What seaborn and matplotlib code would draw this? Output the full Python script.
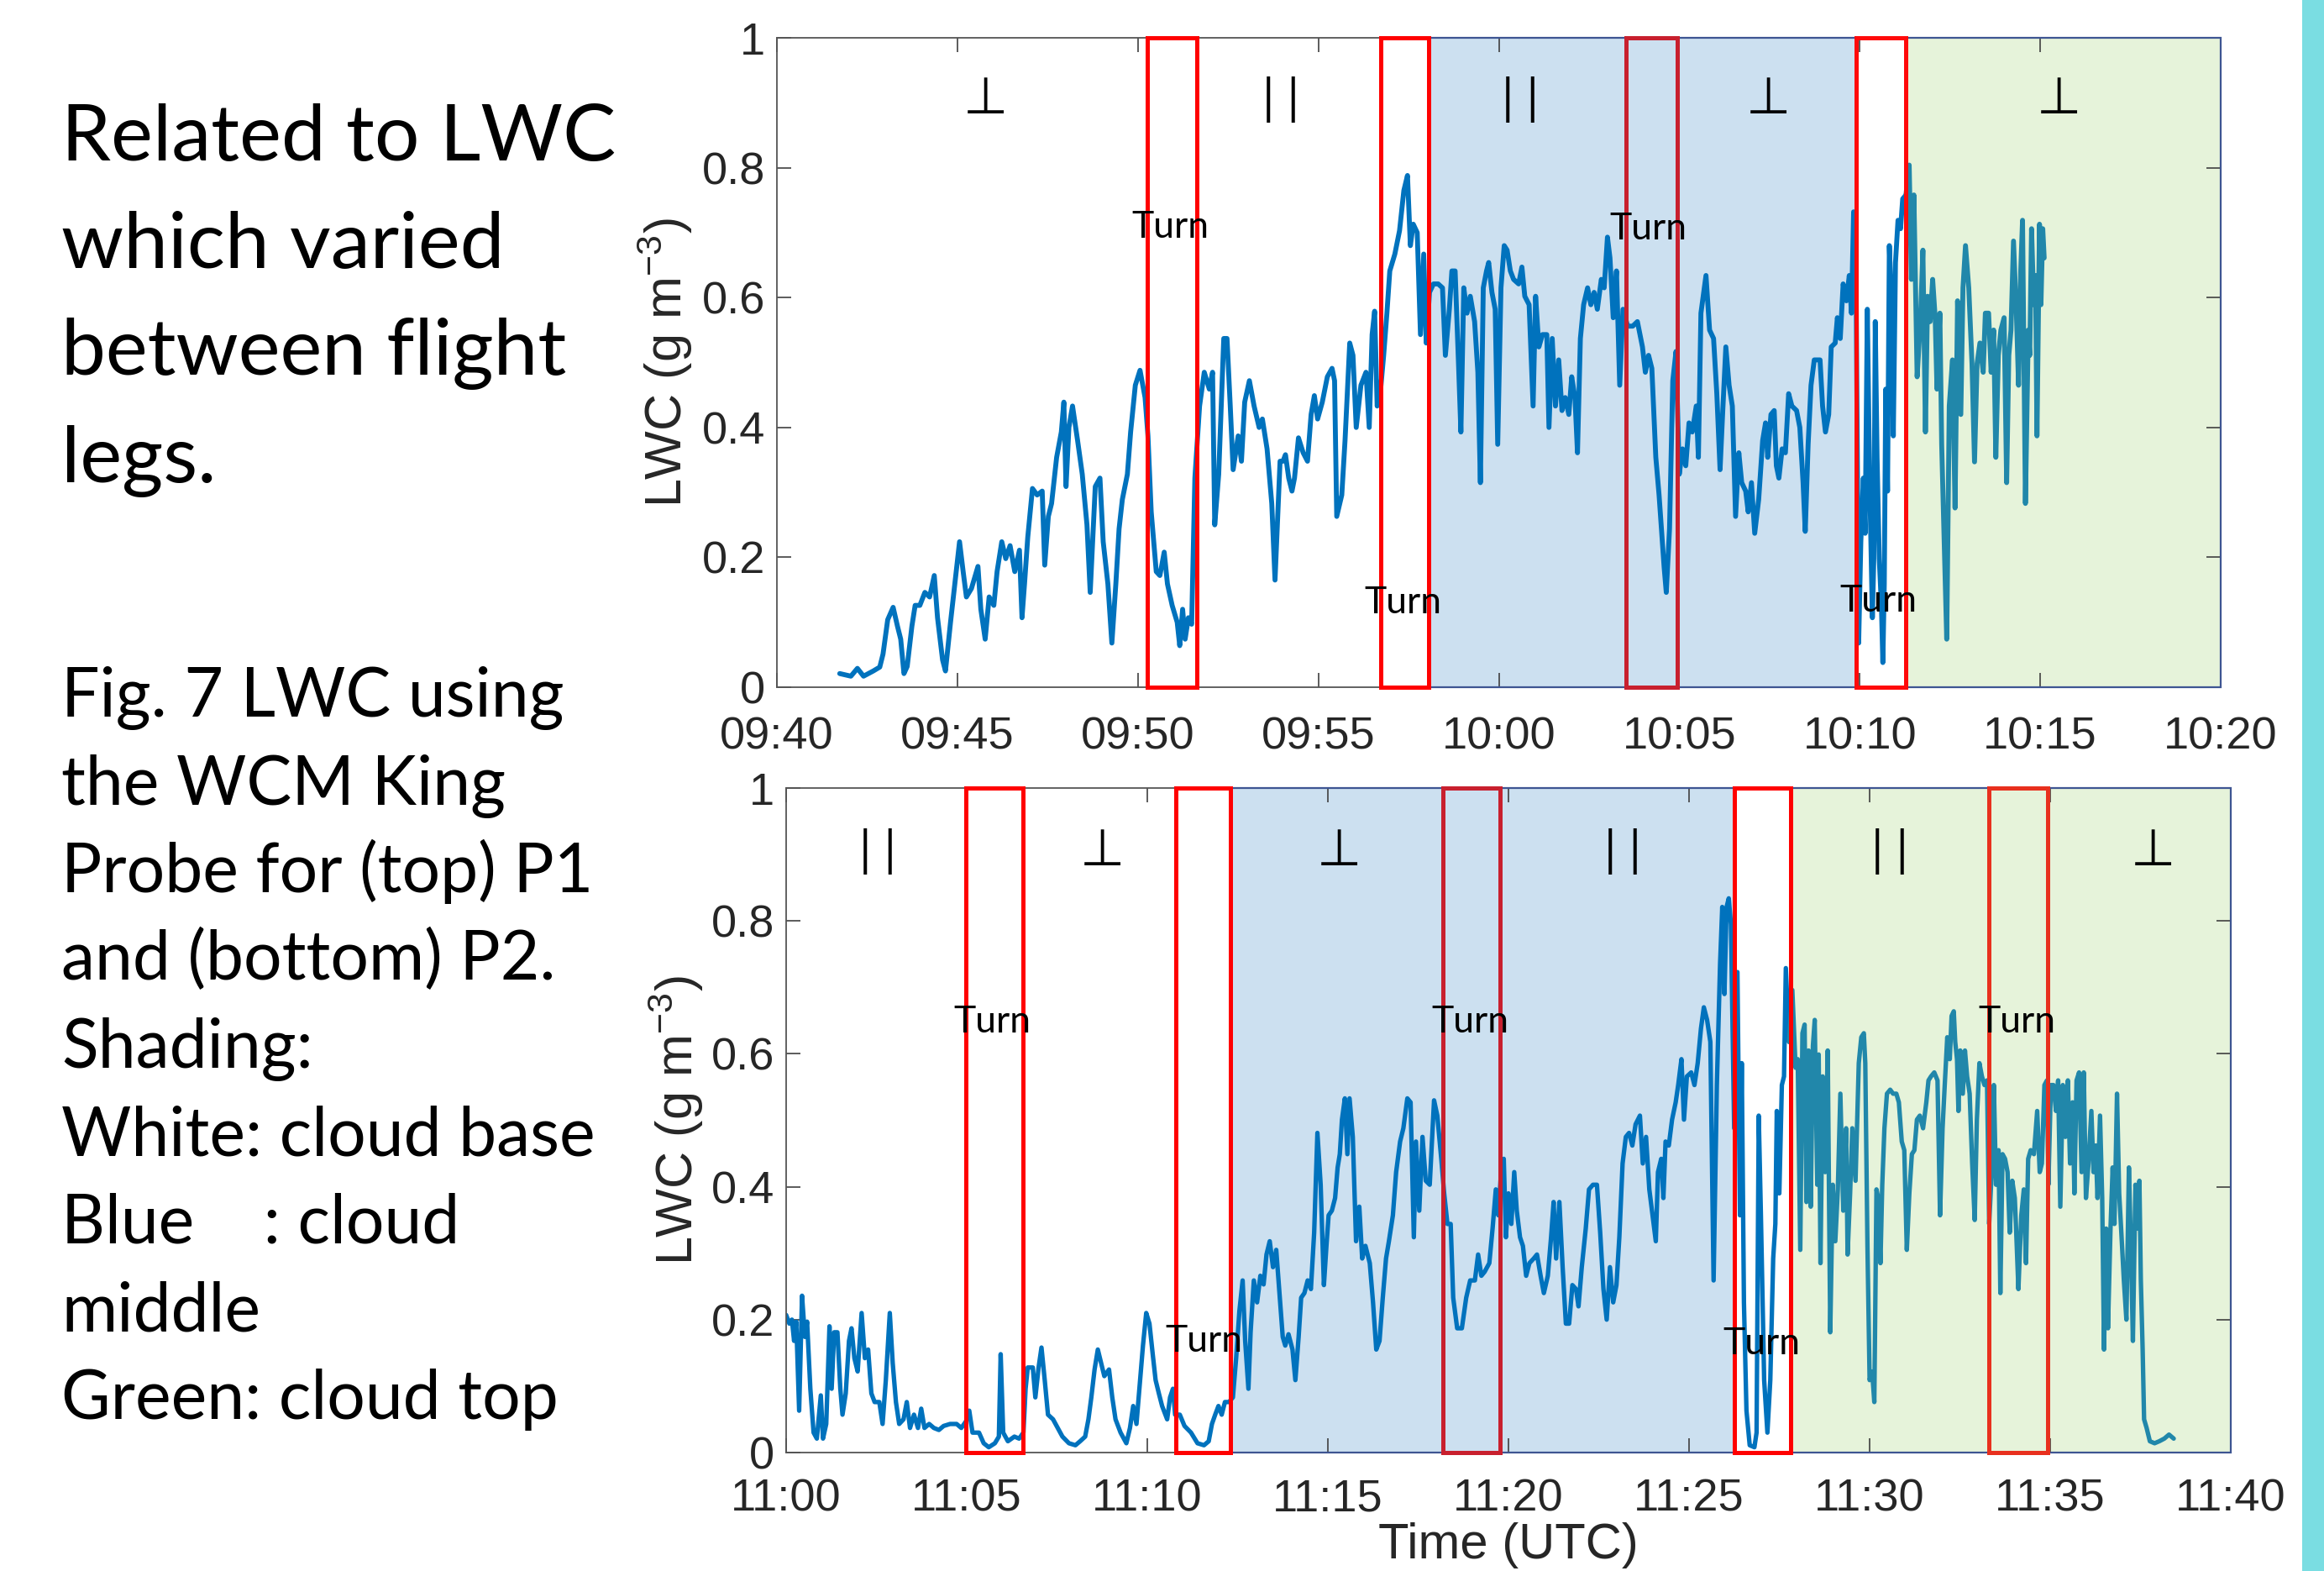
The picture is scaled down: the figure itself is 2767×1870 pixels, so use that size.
import matplotlib
matplotlib.use("Agg")
import matplotlib.pyplot as plt
from matplotlib.patches import Rectangle
import numpy as np
import pandas as pd
import seaborn as sns

# ---------------------------------------------------------------- data
TOP_TICK_LABELS = ["09:40", "09:45", "09:50", "09:55", "10:00", "10:05", "10:10", "10:15", "10:20"]
BOT_TICK_LABELS = ["11:00", "11:05", "11:10", "11:15", "11:20", "11:25", "11:30", "11:35", "11:40"]
Y_TICK_LABELS = ["0", "0.2", "0.4", "0.6", "0.8", "1"]

# (minutes after 09:40, LWC g m-3) - P1
TOP_SAMPLES = [
    (1.74, 0.021), (2.05, 0.017), (2.23, 0.029), (2.40, 0.017), (2.67, 0.025), (2.85, 0.031), (2.94, 0.051),
    (3.07, 0.104), (3.22, 0.123), (3.34, 0.094), (3.43, 0.074), (3.52, 0.021), (3.61, 0.032), (3.74, 0.094),
    (3.83, 0.126), (3.96, 0.126), (4.10, 0.146), (4.23, 0.139), (4.36, 0.172), (4.45, 0.107), (4.59, 0.042),
    (4.67, 0.025), (4.81, 0.100), (4.94, 0.165), (5.06, 0.224), (5.16, 0.178), (5.25, 0.139), (5.39, 0.152),
    (5.57, 0.186), (5.65, 0.120), (5.77, 0.074), (5.88, 0.139), (6.01, 0.126), (6.10, 0.178), (6.23, 0.224),
    (6.34, 0.198), (6.46, 0.218), (6.59, 0.178), (6.72, 0.211), (6.79, 0.107), (6.86, 0.159), (6.95, 0.231),
    (7.08, 0.306), (7.21, 0.296), (7.35, 0.302), (7.42, 0.188), (7.52, 0.263), (7.61, 0.283), (7.75, 0.354),
    (7.88, 0.393), (7.95, 0.439), (8.01, 0.309), (8.09, 0.400), (8.19, 0.433), (8.33, 0.380), (8.46, 0.328),
    (8.59, 0.250), (8.68, 0.146), (8.82, 0.309), (8.95, 0.322), (9.04, 0.224), (9.17, 0.159), (9.28, 0.068),
    (9.39, 0.159), (9.48, 0.244), (9.57, 0.289), (9.71, 0.328), (9.80, 0.393), (9.93, 0.465), (10.06, 0.488),
    (10.20, 0.446), (10.28, 0.387), (10.37, 0.270), (10.51, 0.178), (10.61, 0.172), (10.73, 0.208), (10.82, 0.159),
    (10.95, 0.126), (11.09, 0.100), (11.16, 0.064), (11.24, 0.120), (11.31, 0.074), (11.40, 0.107), (11.49, 0.097),
    (11.58, 0.322), (11.71, 0.433), (11.84, 0.485), (11.98, 0.459), (12.07, 0.485), (12.13, 0.250), (12.24, 0.328),
    (12.38, 0.537), (12.47, 0.537), (12.56, 0.433), (12.64, 0.335), (12.78, 0.387), (12.87, 0.348), (12.96, 0.439),
    (13.09, 0.472), (13.22, 0.433), (13.36, 0.400), (13.45, 0.413), (13.58, 0.367), (13.71, 0.283), (13.80, 0.165),
    (13.94, 0.348), (14.02, 0.348), (14.09, 0.358), (14.18, 0.322), (14.27, 0.302), (14.34, 0.322), (14.45, 0.384),
    (14.58, 0.361), (14.70, 0.348), (14.80, 0.420), (14.89, 0.449), (14.98, 0.413), (15.11, 0.439), (15.25, 0.478),
    (15.38, 0.491), (15.45, 0.472), (15.51, 0.263), (15.65, 0.296), (15.74, 0.380), (15.87, 0.530), (15.96, 0.511),
    (16.05, 0.400), (16.18, 0.465), (16.32, 0.485), (16.41, 0.400), (16.49, 0.543), (16.56, 0.579), (16.63, 0.433),
    (16.72, 0.455), (16.81, 0.511), (16.90, 0.576), (16.98, 0.641), (17.12, 0.667), (17.25, 0.703), (17.37, 0.765),
    (17.47, 0.788), (17.55, 0.680), (17.63, 0.713), (17.74, 0.700), (17.83, 0.543), (17.92, 0.667), (17.99, 0.530),
    (18.08, 0.608), (18.19, 0.621), (18.32, 0.621), (18.44, 0.615), (18.52, 0.511), (18.63, 0.582), (18.70, 0.641),
    (18.79, 0.641), (18.88, 0.504), (18.95, 0.393), (19.03, 0.615), (19.12, 0.576), (19.21, 0.602), (19.33, 0.563),
    (19.42, 0.485), (19.49, 0.315), (19.57, 0.615), (19.66, 0.641), (19.72, 0.654), (19.81, 0.608), (19.90, 0.582),
    (19.97, 0.374), (20.06, 0.615), (20.15, 0.680), (20.23, 0.673), (20.32, 0.641), (20.41, 0.628), (20.55, 0.621),
    (20.64, 0.647), (20.72, 0.602), (20.84, 0.589), (20.95, 0.433), (21.02, 0.602), (21.11, 0.524), (21.21, 0.543),
    (21.33, 0.543), (21.39, 0.400), (21.48, 0.537), (21.57, 0.433), (21.66, 0.504), (21.75, 0.426), (21.84, 0.446),
    (21.94, 0.420), (22.02, 0.478), (22.11, 0.446), (22.18, 0.361), (22.26, 0.537), (22.35, 0.589), (22.46, 0.615),
    (22.55, 0.589), (22.64, 0.608), (22.73, 0.582), (22.84, 0.628), (22.92, 0.615), (23.01, 0.693), (23.08, 0.661),
    (23.17, 0.569), (23.26, 0.641), (23.35, 0.465), (23.44, 0.582), (23.57, 0.556), (23.71, 0.556), (23.84, 0.563),
    (23.98, 0.524), (24.06, 0.485), (24.15, 0.511), (24.24, 0.491), (24.35, 0.354), (24.44, 0.296), (24.53, 0.224),
    (24.58, 0.185), (24.64, 0.146), (24.73, 0.244), (24.82, 0.472), (24.91, 0.517), (25.00, 0.328), (25.09, 0.367),
    (25.18, 0.341), (25.27, 0.407), (25.36, 0.393), (25.47, 0.433), (25.53, 0.354), (25.60, 0.576), (25.74, 0.634),
    (25.84, 0.550), (25.95, 0.537), (26.04, 0.452), (26.13, 0.335), (26.20, 0.420), (26.29, 0.524), (26.38, 0.465),
    (26.47, 0.433), (26.56, 0.263), (26.65, 0.361), (26.73, 0.315), (26.84, 0.302), (26.91, 0.270), (27.00, 0.315),
    (27.09, 0.237), (27.20, 0.289), (27.31, 0.380), (27.39, 0.407), (27.45, 0.354), (27.54, 0.420), (27.63, 0.426),
    (27.69, 0.341), (27.76, 0.322), (27.85, 0.367), (27.94, 0.361), (28.03, 0.452), (28.12, 0.433), (28.25, 0.426),
    (28.34, 0.400), (28.43, 0.315), (28.49, 0.240), (28.57, 0.374), (28.65, 0.465), (28.74, 0.504), (28.90, 0.504),
    (28.97, 0.433), (29.05, 0.393), (29.14, 0.420), (29.21, 0.524), (29.32, 0.530), (29.38, 0.569), (29.46, 0.537),
    (29.54, 0.621), (29.63, 0.595), (29.71, 0.634), (29.77, 0.576), (29.83, 0.732), (29.90, 0.615), (29.97, 0.068),
    (30.03, 0.224), (30.10, 0.322), (30.15, 0.237), (30.21, 0.582), (30.27, 0.335), (30.35, 0.107), (30.39, 0.198),
    (30.43, 0.563), (30.48, 0.354), (30.54, 0.198), (30.60, 0.126), (30.64, 0.038), (30.68, 0.159), (30.72, 0.459),
    (30.77, 0.302), (30.82, 0.680), (30.88, 0.589), (30.93, 0.387), (30.99, 0.654), (31.06, 0.719), (31.13, 0.706),
    (31.19, 0.752), (31.28, 0.758), (31.37, 0.804), (31.43, 0.628), (31.50, 0.758), (31.59, 0.478), (31.68, 0.563),
    (31.75, 0.673), (31.82, 0.393), (31.88, 0.602), (31.95, 0.563), (32.02, 0.628), (32.09, 0.569), (32.14, 0.459),
    (32.22, 0.576), (32.27, 0.374), (32.34, 0.224), (32.41, 0.074), (32.48, 0.433), (32.57, 0.504), (32.64, 0.276),
    (32.71, 0.595), (32.80, 0.420), (32.86, 0.615), (32.93, 0.680), (33.02, 0.615), (33.11, 0.498), (33.18, 0.347),
    (33.25, 0.498), (33.33, 0.530), (33.42, 0.485), (33.48, 0.576), (33.57, 0.576), (33.64, 0.485), (33.71, 0.550),
    (33.77, 0.354), (33.84, 0.511), (33.91, 0.550), (34.00, 0.569), (34.07, 0.315), (34.13, 0.511), (34.19, 0.550),
    (34.26, 0.687), (34.34, 0.576), (34.40, 0.465), (34.46, 0.641), (34.51, 0.719), (34.59, 0.283), (34.67, 0.550),
    (34.71, 0.511), (34.76, 0.706), (34.82, 0.589), (34.87, 0.634), (34.91, 0.387), (34.98, 0.713), (35.02, 0.589),
    (35.07, 0.706), (35.11, 0.661),
]

# (minutes after 11:00, LWC g m-3) - P2
BOT_SAMPLES = [
    (0.00, 0.207), (0.09, 0.194), (0.16, 0.200), (0.22, 0.168), (0.28, 0.197), (0.36, 0.063), (0.44, 0.236),
    (0.52, 0.174), (0.58, 0.197), (0.67, 0.096), (0.76, 0.030), (0.85, 0.021), (0.96, 0.086), (1.02, 0.021),
    (1.11, 0.043), (1.20, 0.190), (1.26, 0.096), (1.33, 0.181), (1.42, 0.181), (1.50, 0.096), (1.56, 0.057),
    (1.65, 0.089), (1.74, 0.168), (1.81, 0.187), (1.89, 0.142), (1.98, 0.122), (2.09, 0.210), (2.18, 0.142),
    (2.27, 0.155), (2.36, 0.089), (2.45, 0.076), (2.58, 0.076), (2.67, 0.043), (2.76, 0.109), (2.87, 0.210),
    (2.95, 0.135), (3.04, 0.076), (3.13, 0.043), (3.25, 0.050), (3.34, 0.076), (3.43, 0.037), (3.54, 0.057),
    (3.65, 0.037), (3.74, 0.066), (3.83, 0.037), (3.96, 0.043), (4.09, 0.037), (4.23, 0.034), (4.36, 0.040),
    (4.54, 0.043), (4.72, 0.043), (4.85, 0.037), (4.98, 0.047), (5.07, 0.063), (5.16, 0.030), (5.34, 0.030),
    (5.47, 0.014), (5.61, 0.008), (5.78, 0.014), (5.89, 0.024), (5.94, 0.148), (6.01, 0.030), (6.14, 0.017),
    (6.32, 0.024), (6.45, 0.021), (6.57, 0.030), (6.63, 0.096), (6.69, 0.128), (6.83, 0.128), (6.90, 0.083),
    (6.99, 0.128), (7.07, 0.158), (7.16, 0.109), (7.25, 0.057), (7.39, 0.050), (7.52, 0.037), (7.65, 0.024),
    (7.83, 0.014), (8.01, 0.011), (8.14, 0.017), (8.28, 0.024), (8.37, 0.050), (8.45, 0.083), (8.54, 0.125),
    (8.63, 0.155), (8.72, 0.135), (8.81, 0.115), (8.94, 0.125), (9.03, 0.083), (9.12, 0.050), (9.26, 0.030),
    (9.42, 0.014), (9.52, 0.037), (9.61, 0.070), (9.70, 0.043), (9.79, 0.102), (9.88, 0.161), (9.97, 0.210),
    (10.06, 0.194), (10.15, 0.148), (10.23, 0.109), (10.32, 0.089), (10.41, 0.070), (10.55, 0.050), (10.63, 0.083),
    (10.71, 0.096), (10.77, 0.057), (10.90, 0.057), (11.03, 0.040), (11.21, 0.030), (11.39, 0.014), (11.57, 0.011),
    (11.70, 0.017), (11.79, 0.043), (11.88, 0.057), (11.97, 0.070), (12.06, 0.057), (12.15, 0.076), (12.26, 0.076),
    (12.37, 0.083), (12.46, 0.142), (12.55, 0.213), (12.64, 0.259), (12.71, 0.168), (12.80, 0.096), (12.86, 0.181),
    (12.95, 0.259), (13.04, 0.226), (13.13, 0.266), (13.22, 0.253), (13.30, 0.298), (13.39, 0.318), (13.48, 0.279),
    (13.57, 0.305), (13.66, 0.240), (13.75, 0.174), (13.82, 0.161), (13.91, 0.178), (14.02, 0.155), (14.10, 0.109),
    (14.19, 0.174), (14.26, 0.233), (14.35, 0.240), (14.44, 0.259), (14.53, 0.246), (14.62, 0.331), (14.71, 0.481),
    (14.80, 0.403), (14.89, 0.252), (14.96, 0.311), (15.02, 0.357), (15.11, 0.364), (15.20, 0.383), (15.27, 0.429),
    (15.33, 0.449), (15.39, 0.501), (15.47, 0.533), (15.54, 0.449), (15.60, 0.533), (15.69, 0.475), (15.78, 0.318),
    (15.87, 0.370), (15.95, 0.292), (16.04, 0.311), (16.16, 0.285), (16.25, 0.226), (16.34, 0.155), (16.43, 0.168),
    (16.52, 0.233), (16.61, 0.292), (16.69, 0.318), (16.80, 0.357), (16.89, 0.422), (17.00, 0.468), (17.09, 0.488),
    (17.20, 0.533), (17.29, 0.527), (17.38, 0.324), (17.44, 0.468), (17.53, 0.364), (17.62, 0.475), (17.71, 0.409),
    (17.82, 0.403), (17.94, 0.530), (18.03, 0.507), (18.14, 0.442), (18.22, 0.390), (18.31, 0.344), (18.40, 0.344),
    (18.47, 0.233), (18.58, 0.187), (18.71, 0.187), (18.83, 0.233), (18.94, 0.259), (19.07, 0.259), (19.16, 0.298),
    (19.25, 0.266), (19.34, 0.272), (19.47, 0.285), (19.56, 0.337), (19.65, 0.396), (19.72, 0.357), (19.81, 0.435),
    (19.87, 0.442), (19.93, 0.324), (20.00, 0.390), (20.08, 0.344), (20.16, 0.422), (20.23, 0.364), (20.32, 0.324),
    (20.40, 0.311), (20.49, 0.266), (20.58, 0.285), (20.70, 0.292), (20.79, 0.298), (20.89, 0.266), (20.98, 0.240),
    (21.09, 0.266), (21.18, 0.324), (21.25, 0.377), (21.32, 0.292), (21.41, 0.377), (21.50, 0.279), (21.59, 0.194),
    (21.68, 0.194), (21.77, 0.252), (21.87, 0.246), (21.94, 0.220), (22.03, 0.279), (22.14, 0.337), (22.23, 0.396),
    (22.34, 0.403), (22.45, 0.403), (22.54, 0.331), (22.63, 0.246), (22.72, 0.200), (22.81, 0.279), (22.90, 0.226),
    (22.99, 0.252), (23.07, 0.324), (23.16, 0.435), (23.25, 0.475), (23.34, 0.481), (23.43, 0.462), (23.52, 0.494),
    (23.64, 0.507), (23.72, 0.435), (23.81, 0.475), (23.90, 0.396), (23.99, 0.357), (24.08, 0.318), (24.14, 0.422),
    (24.23, 0.442), (24.29, 0.383), (24.35, 0.468), (24.44, 0.462), (24.53, 0.501), (24.63, 0.527), (24.70, 0.553),
    (24.79, 0.592), (24.86, 0.501), (24.94, 0.566), (25.06, 0.572), (25.15, 0.553), (25.24, 0.586), (25.33, 0.638),
    (25.41, 0.670), (25.50, 0.651), (25.59, 0.618), (25.68, 0.259), (25.77, 0.553), (25.86, 0.736), (25.92, 0.821),
    (25.98, 0.690), (26.04, 0.821), (26.10, 0.834), (26.16, 0.795), (26.25, 0.488), (26.34, 0.723), (26.41, 0.357),
    (26.46, 0.586), (26.52, 0.226), (26.59, 0.063), (26.68, 0.011), (26.81, 0.008), (26.87, 0.030), (26.93, 0.507),
    (26.99, 0.357), (27.08, 0.109), (27.17, 0.030), (27.25, 0.109), (27.33, 0.292), (27.39, 0.344), (27.43, 0.514),
    (27.50, 0.390), (27.57, 0.553), (27.63, 0.566), (27.68, 0.729), (27.77, 0.618), (27.86, 0.696), (27.95, 0.579),
    (28.01, 0.592), (28.08, 0.305), (28.14, 0.631), (28.20, 0.644), (28.25, 0.377), (28.31, 0.605), (28.37, 0.370),
    (28.43, 0.612), (28.48, 0.651), (28.55, 0.403), (28.59, 0.599), (28.64, 0.285), (28.70, 0.566), (28.77, 0.422),
    (28.84, 0.605), (28.91, 0.181), (28.98, 0.403), (29.05, 0.318), (29.12, 0.396), (29.19, 0.540), (29.27, 0.364),
    (29.35, 0.488), (29.39, 0.298), (29.46, 0.390), (29.52, 0.488), (29.61, 0.409), (29.70, 0.586), (29.77, 0.625),
    (29.84, 0.631), (29.88, 0.586), (29.94, 0.311), (30.00, 0.109), (30.07, 0.122), (30.13, 0.076), (30.19, 0.396),
    (30.24, 0.383), (30.30, 0.285), (30.35, 0.403), (30.41, 0.488), (30.48, 0.540), (30.57, 0.546), (30.65, 0.540),
    (30.74, 0.540), (30.81, 0.527), (30.89, 0.468), (30.96, 0.455), (31.03, 0.305), (31.10, 0.390), (31.17, 0.449),
    (31.24, 0.455), (31.31, 0.501), (31.39, 0.507), (31.48, 0.488), (31.57, 0.527), (31.63, 0.560), (31.70, 0.566),
    (31.79, 0.572), (31.88, 0.560), (31.95, 0.357), (32.02, 0.488), (32.08, 0.553), (32.15, 0.625), (32.22, 0.592),
    (32.27, 0.657), (32.33, 0.664), (32.37, 0.618), (32.42, 0.592), (32.46, 0.514), (32.51, 0.605), (32.58, 0.540),
    (32.64, 0.605), (32.70, 0.566), (32.77, 0.540), (32.84, 0.435), (32.91, 0.350), (32.97, 0.501), (33.04, 0.586),
    (33.11, 0.566), (33.18, 0.553), (33.25, 0.560), (33.31, 0.344), (33.38, 0.422), (33.44, 0.553), (33.50, 0.403),
    (33.57, 0.455), (33.62, 0.240), (33.68, 0.449), (33.75, 0.442), (33.82, 0.422), (33.88, 0.331), (33.95, 0.409),
    (34.02, 0.383), (34.06, 0.331), (34.12, 0.246), (34.20, 0.357), (34.27, 0.396), (34.33, 0.285), (34.39, 0.442),
    (34.46, 0.455), (34.55, 0.449), (34.64, 0.514), (34.71, 0.422), (34.77, 0.435), (34.84, 0.553), (34.91, 0.560),
    (34.95, 0.403), (35.02, 0.553), (35.09, 0.553), (35.16, 0.514), (35.22, 0.560), (35.28, 0.370), (35.35, 0.553),
    (35.42, 0.475), (35.49, 0.560), (35.55, 0.435), (35.62, 0.527), (35.67, 0.390), (35.73, 0.560), (35.80, 0.572),
    (35.87, 0.422), (35.93, 0.572), (35.99, 0.383), (36.06, 0.435), (36.14, 0.514), (36.20, 0.422), (36.26, 0.462),
    (36.31, 0.383), (36.38, 0.507), (36.44, 0.383), (36.49, 0.155), (36.55, 0.337), (36.60, 0.187), (36.67, 0.337),
    (36.73, 0.429), (36.78, 0.344), (36.85, 0.540), (36.91, 0.390), (36.97, 0.331), (37.04, 0.259), (37.11, 0.200),
    (37.18, 0.429), (37.24, 0.298), (37.29, 0.168), (37.36, 0.403), (37.42, 0.337), (37.47, 0.409), (37.51, 0.259),
    (37.56, 0.155), (37.60, 0.050), (37.67, 0.037), (37.76, 0.017), (37.89, 0.014), (38.02, 0.017), (38.16, 0.021),
    (38.29, 0.027), (38.42, 0.021),
]

# flight-leg segments (minutes after start of each panel)
TOP_TURNS = [(10.26, 11.63), (16.73, 18.05), (23.52, 24.94), (29.90, 31.27)]
TOP_MIDDLE = (18.05, 29.90)
TOP_CLOUDTOP = (31.27, 40.0)
TOP_LEGS = ["⊥", "||", "||", "⊥", "⊥"]
TOP_LEG_AT = [5.79, 13.96, 20.61, 27.46, 35.52]

BOT_TURNS = [(4.98, 6.55), (10.78, 12.30), (18.18, 19.76), (26.25, 27.82), (33.30, 34.93)]
BOT_MIDDLE = (12.30, 26.25)
BOT_CLOUDTOP = (27.82, 40.0)
BOT_LEGS = ["||", "⊥", "⊥", "||", "||", "⊥"]
BOT_LEG_AT = [2.54, 8.75, 15.31, 23.17, 30.57, 37.85]

TITLE_LINES = ["Related to LWC", "which varied", "between flight", "legs."]
CAPTION_LINES = ["Fig. 7 LWC using", "the WCM King", "Probe for (top) P1", "and (bottom) P2.",
                 "Shading:", "White: cloud base", "Blue    : cloud", "middle", "Green: cloud top"]

# ---------------------------------------------------------------- style
sns.set_style("white")
plt.rcParams["font.family"] = ["Liberation Sans", "DejaVu Sans"]

W, H = 2767, 1870
fig = plt.figure(figsize=(W / 100, H / 100), dpi=100)
fig.patch.set_facecolor("white")

BLUE_LINE = "#0072BD"
TEAL_LINE = "#2187AA"
MID_FILL = "#CCE0F0"
TOP_FILL = "#E6F3DA"
EDGE = "#3E5592"
TXT = "#262626"


def px_axes(x0, y0, x1, y1):
    return fig.add_axes([x0 / W, 1 - y1 / H, (x1 - x0) / W, (y1 - y0) / H])


ax_top = px_axes(925, 45, 2644, 818)
ax_bot = px_axes(936, 938, 2656, 1729)


def draw_panel(ax, samples, turns, middle, cloudtop, legs, leg_at, tick_labels,
               turn_pos, turn_colors, lw):
    df = pd.DataFrame(samples, columns=["minute", "lwc"])
    for (a, b), col in ((middle, MID_FILL), (cloudtop, TOP_FILL)):
        ax.axvspan(a, b, facecolor=col, edgecolor="none", zorder=0.5)
        ax.add_patch(Rectangle((a, 0), b - a, 1, fill=False, edgecolor=EDGE, lw=1.6,
                               zorder=2.7, clip_on=False))
    start_top = cloudtop[0]
    first = df[df["minute"] <= start_top + 0.02]
    last_idx = first.index.max()
    second = df.loc[last_idx:]
    sns.lineplot(data=first, x="minute", y="lwc", ax=ax, color=BLUE_LINE, lw=lw,
                 estimator=None, sort=False, zorder=2)
    sns.lineplot(data=second, x="minute", y="lwc", ax=ax, color=TEAL_LINE, lw=lw,
                 estimator=None, sort=False, zorder=2)
    for (a, b), c in zip(turns, turn_colors):
        ax.add_patch(Rectangle((a, 0), b - a, 1, fill=False, edgecolor=c, lw=3.6,
                               zorder=3, clip_on=False))
    for s, x in zip(legs, leg_at):
        if s == "⊥":
            ax.text(x, 0.905, s, ha="center", va="center", fontsize=44,
                    family=["DejaVu Sans"], color="black", zorder=4)
        else:
            ax.text(x, 0.905, s, ha="center", va="center", fontsize=40,
                    family=["Noto Sans", "DejaVu Sans"], color="black", zorder=4)
    for (x, y) in turn_pos:
        ax.text(x, y, "Turn", ha="center", va="center", fontsize=32,
                family=["Lato", "DejaVu Sans"], color="black", zorder=4)

    ax.set_xlim(0, 40)
    ax.set_ylim(0, 1)
    ax.set_xticks(np.arange(0, 41, 5))
    ax.set_xticklabels(tick_labels)
    ax.set_yticks(np.linspace(0, 1, 6))
    ax.set_yticklabels(Y_TICK_LABELS)
    ax.tick_params(axis="both", which="both", direction="in", length=12.5, width=1.2,
                   colors="#404040", labelcolor=TXT, labelsize=39, top=True, right=True,
                   bottom=True, left=True)
    ax.tick_params(axis="y", pad=10)
    for sp in ax.spines.values():
        sp.set_color("#555555")
        sp.set_linewidth(1.3)
    ax.set_ylabel("LWC (g m$^{\\mathregular{-3}}$)", fontsize=44, color=TXT)
    ax.set_xlabel("")


draw_panel(ax_top, TOP_SAMPLES, TOP_TURNS, TOP_MIDDLE, TOP_CLOUDTOP, TOP_LEGS, TOP_LEG_AT,
           TOP_TICK_LABELS,
           [(10.9, 0.708), (17.35, 0.13), (24.13, 0.706), (30.52, 0.133)],
           ["#FF0000", "#FF0000", "#C8202E", "#FF0A0A"], lw=4.2)
draw_panel(ax_bot, BOT_SAMPLES, BOT_TURNS, BOT_MIDDLE, BOT_CLOUDTOP, BOT_LEGS, BOT_LEG_AT,
           BOT_TICK_LABELS,
           [(5.71, 0.648), (11.57, 0.168), (18.94, 0.648), (27.0, 0.164), (34.08, 0.648)],
           ["#FF0000", "#FF0000", "#C8202E", "#FF0000", "#E8301E"], lw=3.8)

ax_top.tick_params(axis="x", pad=25)
ax_bot.tick_params(axis="x", pad=22)
ax_top.yaxis.set_label_coords(-0.057, 0.5)
ax_bot.yaxis.set_label_coords(-0.056, 0.5)
ax_bot.set_xlabel("Time (UTC)", fontsize=43, color=TXT)
ax_bot.xaxis.set_label_coords(0.5, -0.105)

# left-hand text
for i, line in enumerate(TITLE_LINES):
    fig.text(73 / W, 1 - (191 + 127.5 * i) / H, line, ha="left", va="baseline",
             fontsize=68, family=["Lato", "DejaVu Sans"], color="black")
for i, line in enumerate(CAPTION_LINES):
    fig.text(73 / W, 1 - (853 + 104.5 * i) / H, line, ha="left", va="baseline",
             fontsize=58, family=["Lato", "DejaVu Sans"], color="black")

# cyan strip at right edge
fig.patches.append(Rectangle((2741 / W, 0), 1 - 2741 / W, 1, transform=fig.transFigure,
                             facecolor="#7ADDE2", edgecolor="none", zorder=0))

fig.savefig("out.png", dpi=100, facecolor="white")
